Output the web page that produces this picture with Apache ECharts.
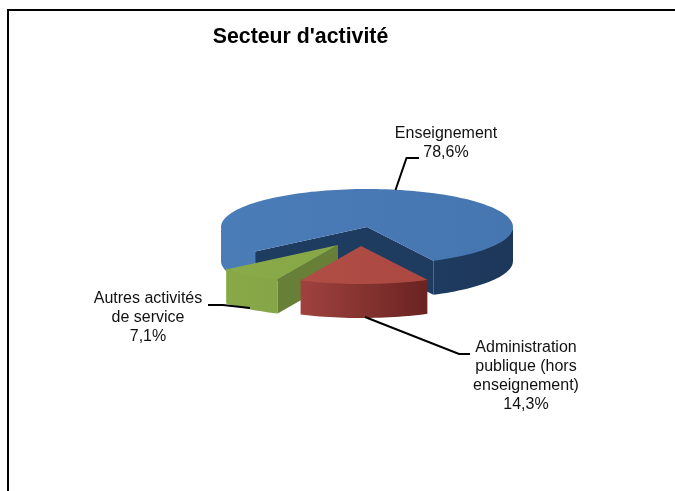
<!DOCTYPE html>
<html>
<head>
<meta charset="utf-8">
<style>html,body{margin:0;padding:0;background:#fff}#c{width:675px;height:491px}</style>
<script src="https://cdn.jsdelivr.net/npm/echarts@6/dist/echarts.min.js"></script>
</head>
<body>
<div id="c"></div>
<script>
const chartTitle = "Secteur d'activité";
const categories = ["Enseignement", "Administration publique (hors enseignement)", "Autres activités de service"];
const labelLines = [["Enseignement"], ["Administration", "publique (hors", "enseignement)"], ["Autres activités", "de service"]];
const values = [78.6, 14.3, 7.1];

const FONT = '"Liberation Sans", Arial, sans-serif';
const firstAngle = 230, CX = 367, CY = 227, RX = 146, RY = 38, DEPTH = 34;
const explode = [[0, 0], [-6, 19], [-29, 18]];
const paintOrder = [0, 2, 1];
const looks = [
  { top: ['#4a7cb8', '#4676b0'], face: ['#4a7cb6', '#4a7ab3', '#1f3c62', '#1c3759'], wall: '#1e3b60' },
  { top: ['#b04d45', '#ab4841'], face: ['#a0423e', '#6a2322'], wall: '#7d2d2b' },
  { top: ['#8aab4a', '#87a646'], face: ['#8aab4a', '#85a546'], wall: '#677f36' }
];
const callouts = [
  { leader: [[395.5, 190], [406.5, 158], [419, 158]], x: 446, y: 134 },
  { leader: [[365, 317], [459, 354], [470, 354]], x: 526, y: 348 },
  { leader: [[250, 308], [223, 305], [208, 305]], x: 148, y: 299 }
];
const LINE_H = 19;

const total = values.reduce((a, b) => a + b, 0);
const fmt = v => v.toFixed(1).replace('.', ',') + '%';

function pt(deg, ox, oy, drop) {
  const a = deg * Math.PI / 180;
  return [CX + ox + RX * Math.sin(a), CY + oy - RY * Math.cos(a) + (drop || 0)];
}
function arc(from, to, ox, oy, drop) {
  const pts = [], n = Math.max(2, Math.ceil(Math.abs(to - from) / 2));
  for (let i = 0; i <= n; i++) pts.push(pt(from + (to - from) * i / n, ox, oy, drop));
  return pts;
}
function grad(cols, x0, x1) {
  return new echarts.graphic.LinearGradient(x0, 0, x1, 0,
    cols.map((c, i) => ({ offset: i / (cols.length - 1), color: c })), true);
}
function poly(points, fill, z) {
  return { type: 'polygon', shape: { points }, style: { fill, stroke: null }, z2: z };
}

function renderItem(params, api) {
  const i = params.dataIndex;
  let start = firstAngle;
  for (let k = 0; k < i; k++) start += values[k] / total * 360;
  const end = start + api.value(0) / total * 360;
  const [ox, oy] = explode[i], look = looks[i], base = paintOrder[i] * 10;
  const apex = [CX + ox, CY + oy], apexLow = [apex[0], apex[1] + DEPTH];
  const children = [];

  // Outer curved face: only the part of the rim that faces the viewer (90..270 deg)
  for (let turn = 0; turn <= 360; turn += 360) {
    const a = Math.max(start, 90 + turn), b = Math.min(end, 270 + turn);
    if (b > a) {
      const upper = arc(a, b, ox, oy, -1), lower = arc(a, b, ox, oy, DEPTH).reverse();
      const fill = i === 0 ? grad(look.face, CX - RX, CX + RX)
        : i === 1 ? grad(look.face, CX + ox - RX * 0.42, CX + ox + RX * 0.46)
        : grad(look.face, CX + ox - RX, CX + ox - RX * 0.4);
      children.push(poly(upper.concat(lower), fill, base + 1));
    }
  }
  // Radial walls that face the viewer
  const wall = deg => {
    const p = pt(deg, ox, oy, 0), q = pt(deg, ox, oy, DEPTH);
    children.push(poly([apex, p, q, apexLow], look.wall, base + 2));
  };
  if (i === 0) { wall(start); wall(end); }
  if (i === 2) wall(start);
  // Top surface
  const topFill = new echarts.graphic.LinearGradient(0, 0, 1, 0, [
    { offset: 0, color: look.top[0] }, { offset: 1, color: look.top[1] }]);
  children.push(poly([apex].concat(arc(start, end, ox, oy, 0)), topFill, base + 3));

  return { type: 'group', children };
}

function renderCallout(params, api) {
  const i = params.dataIndex, c = callouts[i];
  const lines = labelLines[i].concat(fmt(api.value(0)));
  const children = [{
    type: 'polyline', shape: { points: c.leader },
    style: { fill: null, stroke: '#000', lineWidth: 2 }
  }];
  lines.forEach((t, k) => children.push({
    type: 'text', x: c.x, y: c.y + k * LINE_H,
    style: { text: t, fill: '#111', font: '16px ' + FONT, textAlign: 'center', textVerticalAlign: 'middle' }
  }));
  return { type: 'group', children };
}

const seriesData = values.map((v, i) => ({ name: categories[i], value: [v] }));
const chart = echarts.init(document.getElementById('c'), null, { renderer: 'canvas' });
chart.setOption({
  animation: false,
  backgroundColor: '#fff',
  title: {
    text: chartTitle, left: 295.5, top: 22, textAlign: 'center',
    textStyle: { fontFamily: FONT, fontWeight: 'bold', fontSize: 21.3, color: '#000' }
  },
  graphic: [
    { type: 'line', shape: { x1: 7, y1: 10, x2: 675, y2: 10 }, style: { stroke: '#000', lineWidth: 2 } },
    { type: 'line', shape: { x1: 8, y1: 9, x2: 8, y2: 491 }, style: { stroke: '#000', lineWidth: 2 } }
  ],
  series: [
    { type: 'custom', coordinateSystem: 'none', renderItem, data: seriesData, z: 2, silent: true },
    { type: 'custom', coordinateSystem: 'none', renderItem: renderCallout, data: seriesData, z: 3, silent: true }
  ]
});
</script>
</body>
</html>
